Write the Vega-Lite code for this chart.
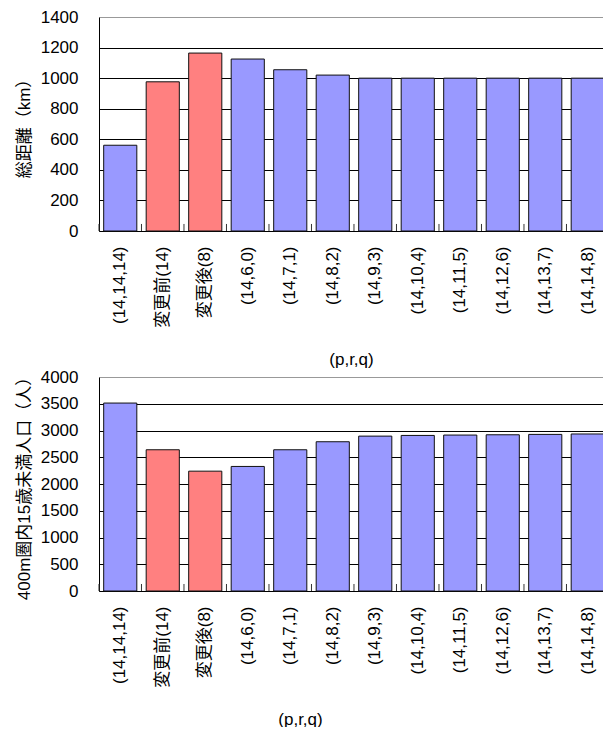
{
  "$schema": "https://vega.github.io/schema/vega-lite/v6.json",
  "background": "white",
  "padding": {"left": 15, "top": 8, "right": 0, "bottom": 0},
  "spacing": 146,
  "bounds": "flush",
  "datasets": {
    "t": [
      {"label": "(14,14,14)", "dist": 561, "pop": 3513, "group": "b"},
      {"label": "変更前(14)", "dist": 976, "pop": 2640, "group": "r"},
      {"label": "変更後(8)", "dist": 1164, "pop": 2240, "group": "r"},
      {"label": "(14,6,0)", "dist": 1125, "pop": 2328, "group": "b"},
      {"label": "(14,7,1)", "dist": 1055, "pop": 2640, "group": "b"},
      {"label": "(14,8,2)", "dist": 1020, "pop": 2790, "group": "b"},
      {"label": "(14,9,3)", "dist": 1000, "pop": 2895, "group": "b"},
      {"label": "(14,10,4)", "dist": 1000, "pop": 2908, "group": "b"},
      {"label": "(14,11,5)", "dist": 1000, "pop": 2915, "group": "b"},
      {"label": "(14,12,6)", "dist": 1000, "pop": 2920, "group": "b"},
      {"label": "(14,13,7)", "dist": 1000, "pop": 2927, "group": "b"},
      {"label": "(14,14,8)", "dist": 1000, "pop": 2935, "group": "b"}
    ]
  },
  "vconcat": [
    {
      "width": 510,
      "height": 214,
      "data": {"name": "t"},
      "layer": [
        {
          "mark": {"type": "bar", "stroke": "#111", "strokeWidth": 1},
          "encoding": {
            "x": {
              "field": "label", "type": "nominal", "sort": null,
              "scale": {"paddingInner": 0.22, "paddingOuter": 0.11},
              "axis": {"title": "(p,r,q)", "titleX": 252, "titleY": 128, "titleBaseline": "middle", "titleAnchor": "middle"}
            },
            "y": {
              "field": "dist", "type": "quantitative",
              "scale": {"domain": [0, 1400], "nice": false},
              "axis": {"title": "総距離（km）", "format": "d", "values": [0, 200, 400, 600, 800, 1000, 1200, 1400]}
            },
            "color": {
              "field": "group", "type": "nominal", "legend": null,
              "scale": {"domain": ["b", "r"], "range": ["#9999FF", "#FF8080"]}
            }
          }
        },
        {
          "mark": {"type": "rule", "color": "#333", "strokeWidth": 1, "xOffset": -4.7},
          "encoding": {
            "x": {"field": "label", "type": "nominal", "sort": null, "bandPosition": 0,
              "axis": {"title": "(p,r,q)", "titleX": 252, "titleY": 128, "titleBaseline": "middle", "titleAnchor": "middle"}},
            "y": {"datum": 0, "type": "quantitative",
              "axis": {"title": "総距離（km）", "format": "d", "values": [0, 200, 400, 600, 800, 1000, 1200, 1400]}},
            "y2": {"datum": 46}
          }
        }
      ]
    },
    {
      "width": 510,
      "height": 214,
      "data": {"name": "t"},
      "layer": [
        {
          "mark": {"type": "bar", "stroke": "#111", "strokeWidth": 1},
          "encoding": {
            "x": {
              "field": "label", "type": "nominal", "sort": null,
              "scale": {"paddingInner": 0.22, "paddingOuter": 0.11},
              "axis": {"title": "(p,r,q)", "titleX": 201, "titleY": 128, "titleBaseline": "middle", "titleAnchor": "middle"}
            },
            "y": {
              "field": "pop", "type": "quantitative",
              "scale": {"domain": [0, 4000], "nice": false},
              "axis": {"title": "400m圏内15歳未満人口（人）", "format": "d", "values": [0, 500, 1000, 1500, 2000, 2500, 3000, 3500, 4000]}
            },
            "color": {
              "field": "group", "type": "nominal", "legend": null,
              "scale": {"domain": ["b", "r"], "range": ["#9999FF", "#FF8080"]}
            }
          }
        },
        {
          "mark": {"type": "rule", "color": "#333", "strokeWidth": 1, "xOffset": -4.7},
          "encoding": {
            "x": {"field": "label", "type": "nominal", "sort": null, "bandPosition": 0,
              "axis": {"title": "(p,r,q)", "titleX": 201, "titleY": 128, "titleBaseline": "middle", "titleAnchor": "middle"}},
            "y": {"datum": 0, "type": "quantitative",
              "axis": {"title": "400m圏内15歳未満人口（人）", "format": "d", "values": [0, 500, 1000, 1500, 2000, 2500, 3000, 3500, 4000]}},
            "y2": {"datum": 131}
          }
        }
      ]
    }
  ],
  "config": {
    "view": {"stroke": null},
    "font": "Liberation Sans, Noto Sans CJK JP",
    "axis": {
      "labelFont": "Liberation Sans, Noto Sans CJK JP",
      "titleFont": "Liberation Sans, Noto Sans CJK JP",
      "labelFontSize": 17,
      "titleFontSize": 17,
      "labelColor": "#000",
      "titleColor": "#000",
      "titleFontWeight": "normal",
      "domainColor": "#000",
      "domainWidth": 1
    },
    "axisX": {
      "labelAngle": -90,
      "ticks": false,
      "labelPadding": 15,
      "grid": false
    },
    "axisY": {
      "tickSize": 0,
      "labelPadding": 21,
      "titlePadding": 7,
      "grid": true,
      "gridColor": {"condition": {"test": "datum.value == 1400 || datum.value == 4000", "value": "#999999"}, "value": "#000000"},
      "gridWidth": 1,
      "gridOpacity": 1
    }
  }
}
